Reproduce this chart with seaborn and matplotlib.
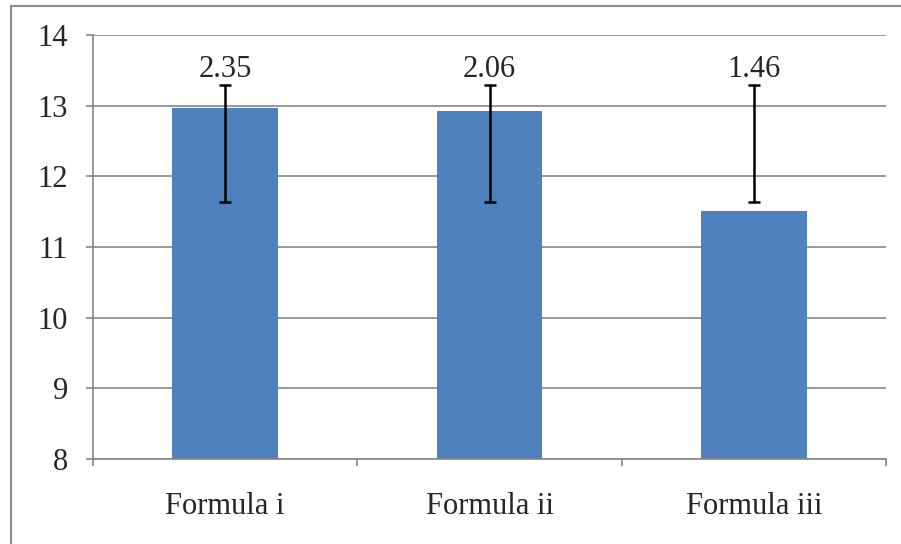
import numpy as np
import pandas as pd
import seaborn as sns
import matplotlib.pyplot as plt
from matplotlib.patches import Rectangle

# values
formulas = ['Formula i', 'Formula ii', 'Formula iii']
means = [12.97, 12.92, 11.51]
err_low = [11.64, 11.64, 11.64]
err_high = [13.29, 13.29, 13.29]
labels = ['2.35', '2.06', '1.46']

sns.set_style('white')
plt.rcParams['font.family'] = ['Liberation Serif', 'DejaVu Serif']

df = pd.DataFrame({'formula': formulas, 'mean': means})

fig = plt.figure(figsize=(9.01, 5.44), dpi=100)
ax = fig.add_axes([0.1032, 0.1562, 0.8802, 0.7795])

sns.barplot(data=df, x='formula', y='mean', color='#4F81BD', width=0.4,
            saturation=1, linewidth=0, ax=ax, zorder=2)

#custom error range (same for all three), drawn around its midpoint
pos = np.arange(len(formulas))
lo = np.array(err_low)
hi = np.array(err_high)
mid = (lo + hi) / 2
ax.errorbar(pos, mid, yerr=(hi - lo) / 2, fmt='none', ecolor='black', elinewidth=1.8,
            capsize=4, capthick=1.8, zorder=3)

for x, top, lab in zip(pos, err_high, labels):
    ax.text(x, top + 0.01, lab, ha='center', va='bottom', fontsize=22)

ax.set_ylim(8, 14)
ax.set_xlim(-0.5, 2.5)
ax.set_yticks(range(8, 15))
ax.yaxis.grid(True, color='#868686', linewidth=1.2, zorder=0)
ax.set_axisbelow(True)
ax.set_xlabel('')
ax.set_ylabel('')

for s in ['top', 'right']:
    ax.spines[s].set_visible(False)
for s in ['left', 'bottom']:
    ax.spines[s].set_color('#868686')
    ax.spines[s].set_linewidth(1.2)

ax.tick_params(axis='y', length=5, width=1.2, color='#868686', pad=13, labelsize=22, left=True)
ax.tick_params(axis='x', which='major', length=0, pad=24, labelsize=22)
ax.set_xticks([-0.5, 0.5, 1.5, 2.5], minor=True)
ax.tick_params(axis='x', which='minor', length=5, width=1.2, color='#868686', bottom=True)

#outer chart border
fig.patches.append(Rectangle((0.0122, -0.05), 1.1, 1.039, transform=fig.transFigure,
                             fill=False, edgecolor='#8c8c8c', linewidth=1.5))

plt.savefig('out.png', dpi=100)
